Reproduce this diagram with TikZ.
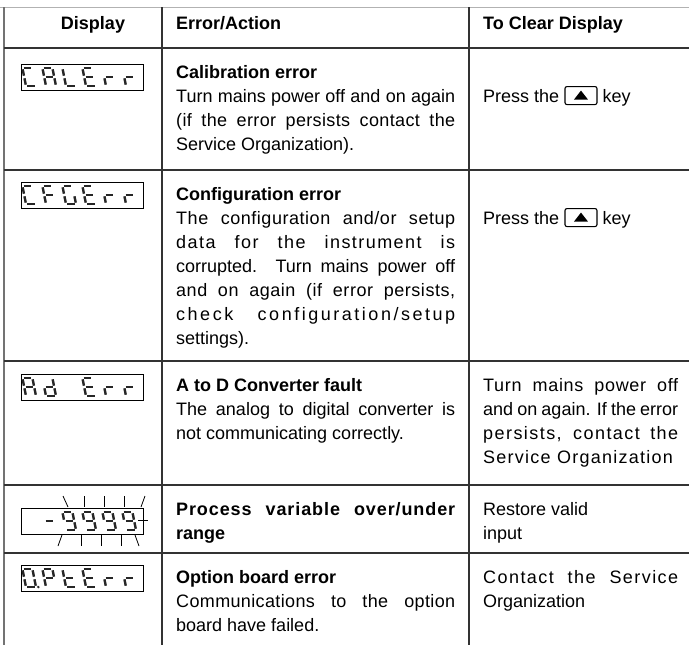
\documentclass[tikz,border=0pt]{standalone}
\usepackage{fontspec}
\setmainfont{Liberation Sans}
\usetikzlibrary{positioning,calc}
\tolerance=10000
\hbadness=10000
\hyphenpenalty=10000
\newcommand\trk[2]{{\addfontfeature{LetterSpace=#1}#2}}
\def\segA{\draw[sg] (1.3,18)--(8.7,18);}
\def\segB{\draw[sg] (10,16.7)--(10,10.3);}
\def\segC{\draw[sg] (10,7.7)--(10,1.3);}
\def\segD{\draw[sg] (1.3,0)--(8.7,0);}
\def\segE{\draw[sg] (0,1.3)--(0,7.7);}
\def\segF{\draw[sg] (0,10.3)--(0,16.7);}
\def\segG{\draw[sg] (1.3,9)--(8.7,9);}
\def\segP{\fill[black!85] (12.3,0) circle (1.4);}
\newcommand\lcd[3]{\begin{scope}[shift={(#1,#2)},yscale=-1,xslant=0.2]\foreach \s in {#3}{\csname seg\s\endcsname}\end{scope}}
\tikzset{
 rule/.style={draw=black!80, line width=1.3pt},
 lcdbox/.style={draw=black, line width=1.1pt, minimum width=122pt, minimum height=26pt, inner sep=0pt, anchor=north west},
 sg/.style={line width=2.4pt, draw=black!85},
 flash/.style={line width=0.8pt, draw=black},
 cell/.style={anchor=base west, inner sep=0pt, align=justify, font=\fontsize{18}{24}\selectfont},
 col2/.style={cell, text width=279pt},
 col3/.style={cell, text width=195pt},
 plain/.style={anchor=base west, inner sep=0pt, font=\fontsize{18}{24}\selectfont},
 head/.style={anchor=base west, inner sep=0pt, font=\fontsize{18}{24}\selectfont\bfseries},
 keybox/.style={draw, line width=1.1pt, rounded corners=2pt, minimum width=32pt, minimum height=18pt, inner sep=0pt},
}
\begin{document}
\begin{tikzpicture}[x=1pt,y=-1pt]
\useasboundingbox (0,0) rectangle (689,645);
% table rules
\draw[black!30, line width=0.8pt] (0,7) -- (689,7);
\draw[rule, draw=black!55] (4,7) -- (4,645);
\draw[rule] (162,7) -- (162,645);
\draw[rule] (469,7) -- (469,645);
\draw[rule, line width=2pt] (4,48) -- (689,48);
\draw[rule] (4,170) -- (689,170);
\draw[rule] (4,361) -- (689,361);
\draw[rule] (4,485) -- (689,485);
\draw[rule] (4,553) -- (689,553);
% headers
\node[head, anchor=base] (h1) at (93,30) {Display};
\node[head] (h2) at (176,30) {Error/Action};
\node[head] (h3) at (483,30) {To Clear Display};
% displays
\node[lcdbox] (d1) at (21,64) {};
\lcd{26}{86}{A,F,E,D}\lcd{46}{86}{A,B,C,E,F,G}\lcd{66}{86}{F,E,D}\lcd{86}{86}{A,F,G,E,D}\lcd{106}{86}{E,G}\lcd{126}{86}{E,G}
\node[lcdbox] (d2) at (21,182) {};
\lcd{26}{204}{A,F,E,D}\lcd{46}{204}{A,F,G,E}\lcd{66}{204}{A,F,E,D,C}\lcd{86}{204}{A,F,G,E,D}\lcd{106}{204}{E,G}\lcd{126}{204}{E,G}
\node[lcdbox] (d3) at (21,374) {};
\lcd{26}{396}{A,B,C,E,F,G}\lcd{46}{396}{B,C,D,E,G}\lcd{86}{396}{A,F,G,E,D}\lcd{106}{396}{E,G}\lcd{126}{396}{E,G}
\node[lcdbox] (d4) at (21,508) {};
\lcd{46}{530}{G}\lcd{66}{530}{A,B,C,D,F,G}\lcd{86}{530}{A,B,C,D,F,G}\lcd{106}{530}{A,B,C,D,F,G}\lcd{126}{530}{A,B,C,D,F,G}
\draw[flash] (63,496) -- (68,507);
\draw[flash] (84.5,496) -- (84.5,507);
\draw[flash] (104.5,496) -- (104.5,507);
\draw[flash] (124.5,496) -- (124.5,507);
\draw[flash] (141,507) -- (145,496);
\draw[flash] (138,520) -- (148,520);
\draw[flash] (58,546) -- (62,535);
\draw[flash] (81,535) -- (81,546);
\draw[flash] (101,535) -- (101,546);
\draw[flash] (121,535) -- (121,546);
\draw[flash] (135,535) -- (139,546);
\node[lcdbox] (d5) at (21,565) {};
\lcd{26}{587}{A,B,C,D,E,F,P}\lcd{46}{587}{A,B,F,G,E}\lcd{66}{587}{F,G,E,D}\lcd{86}{587}{A,F,G,E,D}\lcd{106}{587}{E,G}\lcd{126}{587}{E,G}
% column 2
\node[col2] (c21) at (176,78) {\textbf{Calibration error}\\Turn mains power off and on again\linebreak \trk{2}{(if the error persists contact the}\linebreak Service Organization).};
\node[col2] (c22) at (176,200) {\textbf{Configuration error}\\\trk{3}{The configuration and/or setup}\linebreak \trk{8}{data for the instrument is}\linebreak corrupted. Turn mains power off\linebreak \trk{3}{and on again (if error persists,}\linebreak \trk{14}{check configuration/setup}\linebreak settings).};
\node[col2] (c23) at (176,391) {\textbf{A to D Converter fault}\\The analog to digital converter is\linebreak not communicating correctly.};
\node[col2] (c24) at (176,515) {\textbf{\trk{5}{Process variable over/under}\linebreak range}};
\node[col2] (c25) at (176,583) {\textbf{Option board error}\\\trk{2}{Communications to the option}\linebreak board have failed.};
% column 3
\node[plain] (p1) at (483,102) {Press the};
\node[keybox, right=5pt of p1] (k1) {};
\fill ([shift={(-7,4)}]k1.center) -- ([shift={(7,4)}]k1.center) -- ([shift={(0,-5)}]k1.center) -- cycle;
\node[plain] (y1) at ([xshift=5pt]k1.east |- p1.base) {key};
\node[plain] (p2) at (483,224) {Press the};
\node[keybox, right=5pt of p2] (k2) {};
\fill ([shift={(-7,4)}]k2.center) -- ([shift={(7,4)}]k2.center) -- ([shift={(0,-5)}]k2.center) -- cycle;
\node[plain] (y2) at ([xshift=5pt]k2.east |- p2.base) {key};
\node[col3] (c33) at (483,391) {\trk{4}{Turn mains power off}\linebreak and on again. If the error\linebreak \trk{8}{persists, contact the}\linebreak \trk{7}{Service Organization}\parfillskip=0pt};
\node[col3] (c34) at (483,515) {Restore valid\\input};
\node[col3] (c35) at (483,583) {\trk{8}{Contact the Service}\linebreak Organization};
\end{tikzpicture}
\end{document}
